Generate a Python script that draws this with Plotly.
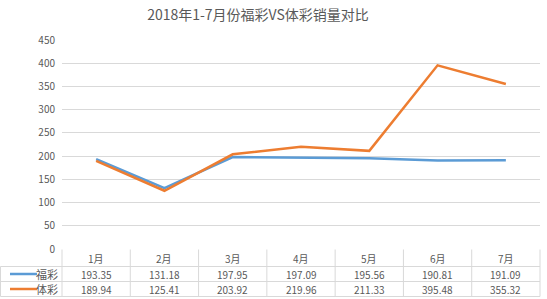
import plotly.graph_objects as go

months = ["1月", "2月", "3月", "4月", "5月", "6月", "7月"]
fucai = [193.35, 131.18, 197.95, 197.09, 195.56, 190.81, 191.09]
ticai = [189.94, 125.41, 203.92, 219.96, 211.33, 395.48, 355.32]
series_names = ["福彩", "体彩"]
colors = ["#5B9BD5", "#ED7D31"]
title = "2018年1-7月份福彩VS体彩销量对比"

W, H = 547, 299
L, R, T, B = 62, 7, 40, 50
PH = H - T - B
PW = W - L - R
FONT = "Noto Sans CJK SC"
TXT = "#595959"
GRID = "#D9D9D9"

def py2paper(py):
    return (H - B - py) / PH

def px2paper(px):
    return (px - L) / PW

fig = go.Figure()
for name, vals, c in zip(series_names, [fucai, ticai], colors):
    fig.add_trace(go.Scatter(x=months, y=vals, mode="lines", name=name,
                             line=dict(color=c, width=2.5), showlegend=False))

n = len(months)
shapes = []
annotations = []
row_y = [249.5, 266.5, 281.5, 296.5]
line_style = dict(color=GRID, width=1)
for yy in row_y[1:]:
    shapes.append(dict(type="line", xref="paper", yref="paper", x0=px2paper(0.5), x1=1,
                       y0=py2paper(yy), y1=py2paper(yy), line=line_style))
for i in range(n + 1):
    xp = i / n
    shapes.append(dict(type="line", xref="paper", yref="paper", x0=xp, x1=xp,
                       y0=py2paper(249.5), y1=py2paper(296.5), line=line_style))
shapes.append(dict(type="line", xref="paper", yref="paper", x0=px2paper(0.5), x1=px2paper(0.5),
                   y0=py2paper(266.5), y1=py2paper(296.5), line=line_style))

for m in months:
    annotations.append(dict(x=m, xref="x", yref="paper", y=py2paper(258), text=m,
                            xanchor="center", yanchor="middle",
                            showarrow=False, font=dict(size=10, color=TXT, family=FONT)))
for r, (name, vals, c) in enumerate(zip(series_names, [fucai, ticai], colors)):
    cy = py2paper((row_y[r + 1] + row_y[r + 2]) / 2)
    for m, v in zip(months, vals):
        annotations.append(dict(x=m, xref="x", yref="paper", y=cy, text=f"{v:.2f}",
                                xanchor="center", yanchor="middle",
                                showarrow=False, font=dict(size=10, color=TXT, family=FONT)))
    shapes.append(dict(type="line", xref="paper", yref="paper", x0=px2paper(10), x1=px2paper(37),
                       y0=cy, y1=cy, line=dict(color=c, width=2.5)))
    annotations.append(dict(x=px2paper(60), xref="paper", yref="paper", y=cy, text=name,
                            xanchor="right", yanchor="middle", showarrow=False,
                            font=dict(size=11, color=TXT, family=FONT)))

fig.update_layout(
    width=W, height=H,
    margin=dict(l=L, r=R, t=T, b=B),
    paper_bgcolor="white", plot_bgcolor="white",
    title=dict(text=title, x=258 / W, xanchor="center", xref="container",
               y=1 - 15 / H, yanchor="middle", yref="container",
               font=dict(size=14, color=TXT, family=FONT)),
    font=dict(family=FONT, color=TXT, size=10),
    shapes=shapes, annotations=annotations,
)
fig.update_xaxes(type="category", range=[-0.5, 6.5], showticklabels=False,
                 showgrid=False, zeroline=False, showline=False, ticks="")
fig.update_yaxes(range=[0, 450], dtick=50, showgrid=True, gridcolor=GRID, gridwidth=1,
                 zeroline=False, showline=False, ticks="", ticklabelstandoff=6,
                 tickfont=dict(size=10, color=TXT, family=FONT))

fig.write_html("out.html")
